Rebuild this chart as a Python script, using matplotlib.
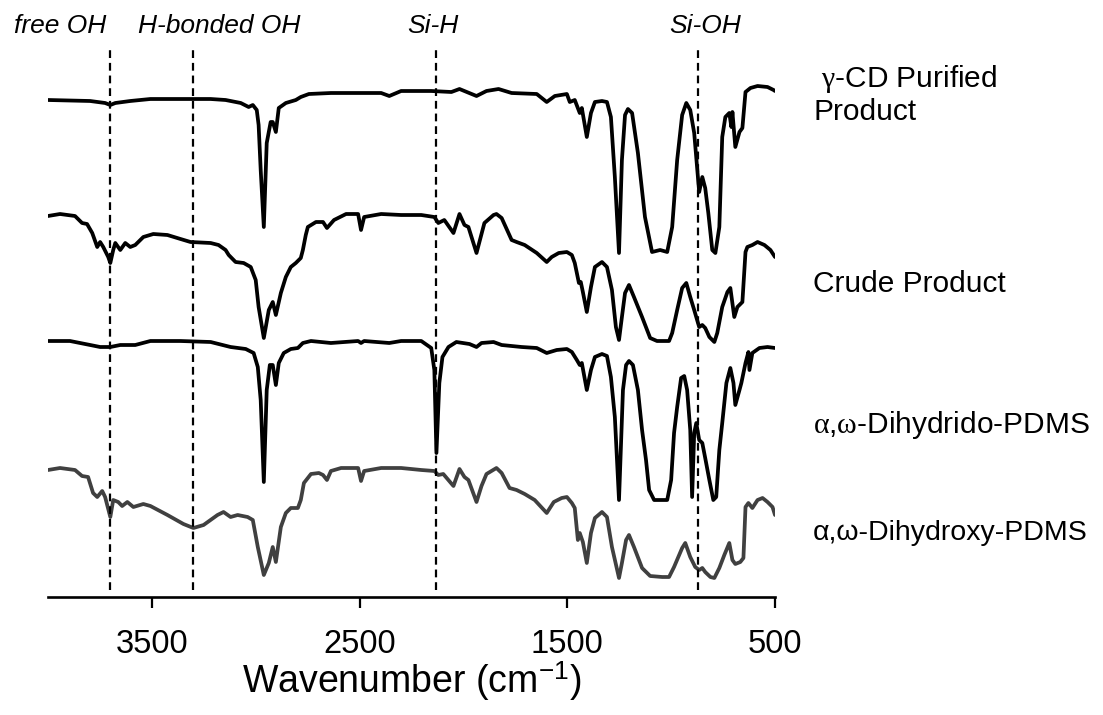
import matplotlib
matplotlib.use("Agg")
import matplotlib.pyplot as plt

plt.rcParams['font.family'] = ['Liberation Sans', 'DejaVu Sans']
plt.rcParams['mathtext.fontset'] = 'custom'
plt.rcParams['mathtext.it'] = 'Liberation Serif'
plt.rcParams['mathtext.rm'] = 'Liberation Sans'

# ---------------- data (wavenumber cm-1, stacked transmittance a.u.) ----------------
wn_purified = [4000, 3797, 3725, 3700, 3676, 3604, 3507, 3217, 3145, 3072, 3034, 3014, 2995, 2986,
               2976, 2961, 2947, 2928, 2918, 2903, 2889, 2855, 2807, 2783, 2744, 2638, 2493, 2396,
               2357, 2300, 2155, 2058, 2019, 1937, 1889, 1831, 1768, 1647, 1599, 1560, 1502, 1488,
               1464, 1440, 1430, 1406, 1386, 1367, 1333, 1309, 1290, 1271, 1251, 1237, 1222, 1208,
               1188, 1160, 1126, 1092, 1053, 1019, 995, 971, 947, 927, 908, 889, 874, 865, 850, 836,
               821, 802, 787, 768, 754, 739, 720, 710, 705, 691, 671, 657, 642, 618, 584, 536, 507, 500]
t_purified = [497, 496, 494, 492, 494, 496, 498, 498, 497, 494, 490, 492, 487, 472,
              427, 370, 454, 475, 475, 465, 489, 494, 497, 500, 503, 504, 504, 504,
              501, 506, 506, 505, 508, 501, 506, 508, 504, 503, 495, 501, 503, 495,
              497, 484, 489, 460, 484, 495, 496, 495, 480, 420, 344, 437, 482, 488,
              484, 444, 380, 345, 347, 345, 370, 437, 482, 494, 487, 464, 427, 405, 420, 409,
              384, 347, 344, 370, 460, 480, 484, 470, 485, 450, 465, 469, 505, 509, 511, 510, 507, 506]

wn_crude = [4000, 3942, 3870, 3836, 3812, 3787, 3763, 3749, 3734, 3710, 3700, 3686, 3676, 3652,
            3628, 3604, 3580, 3541, 3493, 3425, 3362, 3314, 3217, 3179, 3145, 3130, 3097, 3058,
            3024, 3000, 2986, 2961, 2937, 2918, 2903, 2879, 2855, 2831, 2807, 2783, 2773, 2759,
            2749, 2710, 2676, 2657, 2623, 2565, 2507, 2493, 2478, 2396, 2300, 2203, 2140, 2121,
            2092, 2048, 2019, 1995, 1976, 1937, 1899, 1855, 1841, 1816, 1768, 1744, 1705, 1647,
            1599, 1575, 1541, 1502, 1478, 1464, 1444, 1435, 1425, 1406, 1386, 1367, 1333, 1309,
            1285, 1266, 1251, 1237, 1222, 1203, 1179, 1140, 1101, 1068, 1010, 995, 971, 947, 927,
            908, 889, 865, 850, 836, 816, 792, 778, 754, 729, 715, 696, 681, 657, 642, 633, 609,
            584, 551, 522, 500]
t_crude = [381, 383, 381, 374, 373, 364, 350, 355, 350, 340, 334, 347, 354, 347,
           354, 350, 352, 360, 363, 362, 358, 355, 354, 352, 347, 342, 335, 334,
           330, 317, 290, 259, 287, 295, 282, 304, 320, 330, 334, 339, 347, 362,
           370, 375, 375, 369, 377, 383, 383, 367, 380, 383, 382, 382, 380, 374,
           377, 364, 383, 372, 370, 344, 374, 382, 383, 379, 357, 355, 352, 344,
           335, 340, 344, 345, 342, 334, 314, 315, 305, 285, 310, 330, 335, 330,
           307, 270, 257, 280, 304, 312, 300, 280, 259, 256, 256, 264, 287, 309, 314,
           300, 287, 270, 272, 269, 260, 255, 264, 290, 305, 309, 280, 290, 295, 345, 350, 352,
           355, 352, 347, 340]

wn_dihydrido = [4000, 3894, 3797, 3749, 3700, 3652, 3580, 3507, 3362, 3217, 3121, 3048, 3010, 2990,
                2976, 2961, 2947, 2932, 2918, 2903, 2889, 2865, 2831, 2797, 2773, 2734, 2638, 2507,
                2493, 2478, 2357, 2300, 2203, 2155, 2140, 2130, 2116, 2101, 2072, 2034, 1971, 1937,
                1913, 1855, 1816, 1720, 1647, 1599, 1551, 1502, 1478, 1454, 1440, 1430, 1406, 1386,
                1367, 1333, 1309, 1290, 1271, 1251, 1232, 1217, 1203, 1184, 1160, 1140, 1121, 1106,
                1082, 1019, 1000, 986, 971, 952, 937, 923, 908, 899, 889, 879, 865, 850, 836, 816,
                797, 783, 768, 754, 734, 715, 700, 691, 671, 662, 642, 628, 623, 609, 575, 536, 500]
t_dihydrido = [256, 256, 252, 250, 250, 252, 252, 256, 256, 255, 250, 248, 244, 230,
               197, 115, 207, 232, 232, 212, 234, 244, 248, 249, 254, 256, 254, 256,
               254, 256, 254, 256, 256, 249, 227, 144, 214, 240, 250, 255, 253, 250,
               254, 255, 252, 250, 249, 244, 247, 248, 245, 237, 232, 234, 207, 227,
               240, 243, 241, 220, 180, 97, 207, 232, 236, 232, 207, 167, 137, 107,
               97, 97, 117, 164, 190, 219, 221, 207, 167, 100, 164, 174, 157, 154, 139, 117,
               97, 100, 147, 174, 214, 229, 214, 192, 207, 214, 234, 245, 227, 244, 249, 250, 249]

wn_dihydroxy = [4000, 3942, 3870, 3836, 3807, 3783, 3763, 3739, 3725, 3700, 3686, 3662, 3643, 3618,
                3589, 3541, 3507, 3425, 3348, 3300, 3251, 3184, 3155, 3121, 3087, 3039, 3014, 2990,
                2961, 2937, 2918, 2903, 2879, 2855, 2831, 2797, 2783, 2768, 2734, 2696, 2676, 2657,
                2638, 2589, 2507, 2493, 2478, 2396, 2300, 2203, 2140, 2121, 2097, 2048, 2019, 1995,
                1976, 1937, 1913, 1889, 1841, 1816, 1778, 1744, 1705, 1657, 1599, 1565, 1527, 1502,
                1478, 1464, 1449, 1440, 1425, 1406, 1386, 1367, 1333, 1309, 1285, 1251, 1237, 1217,
                1203, 1179, 1140, 1101, 1043, 1010, 986, 947, 932, 908, 884, 865, 850, 836, 811, 792,
                768, 744, 720, 705, 691, 667, 652, 642, 628, 609, 584, 560, 536, 512, 500]
t_dihydroxy = [127, 129, 127, 121, 120, 104, 100, 106, 100, 80, 97, 95, 91, 95,
               90, 93, 91, 82, 73, 69, 72, 82, 85, 80, 82, 80, 77, 50,
               22, 34, 50, 35, 70, 84, 89, 89, 97, 114, 123, 124, 122, 117,
               126, 129, 129, 116, 126, 129, 129, 127, 126, 122, 123, 111, 128, 120,
               117, 95, 111, 123, 129, 124, 109, 107, 103, 97, 84, 95, 99, 100,
               94, 89, 57, 64, 55, 34, 64, 79, 85, 80, 50, 19, 34, 57,
               62, 50, 29, 21, 20, 20, 30, 49, 54, 40, 30, 27, 29, 25, 20, 19,
               29, 42, 54, 37, 33, 35, 39, 90, 94, 89, 97, 99, 95, 90, 82]

series_labels = [' $\\gamma$-CD Purified\nProduct', 'Crude Product',
                 '$\\alpha$,$\\omega$-Dihydrido-PDMS', '\u03b1,\u03c9-Dihydroxy-PDMS']
band_wn = [3700, 3300, 2130, 870]
band_labels = ['free OH', 'H-bonded OH', 'Si-H', 'Si-OH']
tick_values = [3500, 2500, 1500, 500]

# ---------------- figure ----------------
W, H = 1103, 715
fig = plt.figure(figsize=(W / 100, H / 100), dpi=100)
ax = fig.add_axes([48 / W, (H - 597) / H, (775 - 48) / W, 597 / H])
ax.set_xlim(4000, 500)
ax.set_ylim(0, 597)

series = [(wn_purified, t_purified, 'black'),
          (wn_crude, t_crude, 'black'),
          (wn_dihydrido, t_dihydrido, 'black'),
          (wn_dihydroxy, t_dihydroxy, '#404040')]
for wn, t, c in series:
    ax.plot(wn, t, color=c, lw=2.7, solid_joinstyle='round', solid_capstyle='round')

ax.vlines(band_wn, 7, 550, colors='black', linestyles=(0, (3.5, 2.2)), lw=1.6)

for s in ['left', 'right', 'top']:
    ax.spines[s].set_visible(False)
ax.spines['bottom'].set_linewidth(1.9)
ax.set_yticks([])
ax.set_xticks(tick_values)
ax.set_xticklabels([str(v) for v in tick_values])
ax.tick_params(axis='x', direction='out', length=8, width=1.6, labelsize=23.5, pad=15)
ax.set_xlabel('Wavenumber (cm$^{\\mathregular{-1}}$)', fontsize=27, labelpad=0)

# series labels (right side)
label_x = 813 / W
label_base_px = [120, 292, 433, 540]
label_sizes = [21.5, 21.5, 21.5, 20.5]
for lab, ypx, fs in zip(series_labels, label_base_px, label_sizes):
    fig.text(label_x, (H - ypx) / H, lab, fontsize=fs, ha='left', va='baseline', linespacing=1.15)

# band labels (top)
band_label_px = [60, 219, 433, 705]
for lab, xpx in zip(band_labels, band_label_px):
    fig.text(xpx / W, (H - 33) / H, lab, fontsize=19, style='italic', ha='center', va='baseline')

fig.savefig('out.png', dpi=100)
